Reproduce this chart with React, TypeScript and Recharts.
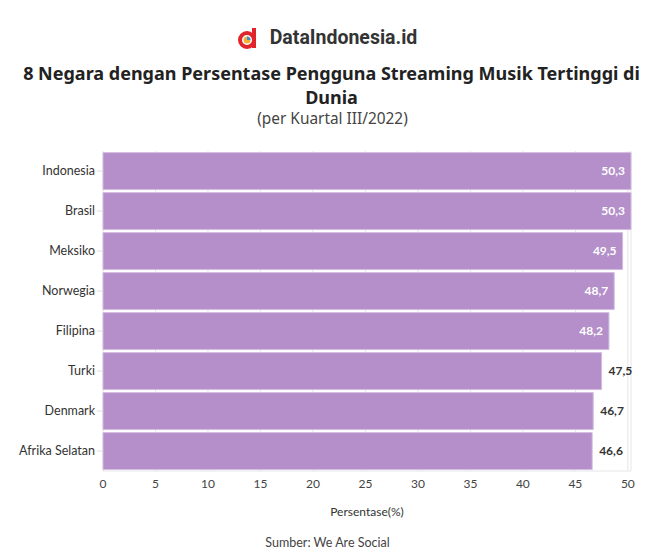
import { BarChart, Bar, XAxis, YAxis, CartesianGrid, LabelList } from "recharts";

const countries = ["Indonesia", "Brasil", "Meksiko", "Norwegia", "Filipina", "Turki", "Denmark", "Afrika Selatan"];
const shares = [50.3, 50.3, 49.5, 48.7, 48.2, 47.5, 46.7, 46.6];
const xTicks = [0, 5, 10, 15, 20, 25, 30, 35, 40, 45, 50];

const rows = countries.map((name, i) => ({ name, value: shares[i] }));

const FONT = "Lato, 'Noto Sans', sans-serif";

function ValueLabel(props: any) {
  const { x, y, width, height, value } = props;
  const inside = value >= 48;
  const text = String(value).replace(".", ",");
  return (
    <text
      x={inside ? x + width - 6 : x + width + 7}
      y={y + height / 2}
      dy={4}
      textAnchor={inside ? "end" : "start"}
      fill={inside ? "#ffffff" : "#333333"}
      fontSize={12}
      fontWeight={700}
      fontFamily={FONT}
    >
      {text}
    </text>
  );
}

function Logo() {
  return (
    <svg width={22} height={22} viewBox="0 0 22 22" style={{ verticalAlign: "middle", marginRight: 10 }}>
      <rect x={14} y={1} width={4} height={20} fill="#e0262b" />
      <circle cx={9} cy={13} r={7} fill="none" stroke="#e0262b" strokeWidth={4} />
      <circle cx={9} cy={13} r={3.5} fill="#f2b134" />
      <path d="M9 13 L9 9.5 A3.5 3.5 0 0 1 12.5 13 Z" fill="#3a8fd8" />
    </svg>
  );
}

export default function App() {
  return (
    <div style={{ position: "absolute", left: 0, top: 0, width: 645, height: 554, background: "#fff", overflow: "hidden" }}>
      <div style={{ position: "absolute", top: 24, left: 5, width: 645, textAlign: "center", fontFamily: "Roboto, sans-serif", fontWeight: 700, fontSize: 19.5, color: "#333", lineHeight: "26px" }}>
        <Logo />
        <span style={{ verticalAlign: "middle" }}>DataIndonesia.id</span>
      </div>
      <div style={{ position: "absolute", top: 61, left: 9, width: 645, textAlign: "center", fontFamily: "'Noto Sans', sans-serif", fontWeight: 700, fontSize: 18, color: "#222", lineHeight: "24px", whiteSpace: "nowrap" }}>
        8 Negara dengan Persentase Pengguna Streaming Musik Tertinggi di
        <br />
        Dunia
      </div>
      <div style={{ position: "absolute", top: 108, left: 10, width: 645, textAlign: "center", fontFamily: "'Noto Sans', sans-serif", fontSize: 15.4, color: "#444", lineHeight: "22px" }}>
        (per Kuartal III/2022)
      </div>
      <div style={{ position: "absolute", top: 0, left: 0 }}>
        <BarChart
          width={645}
          height={554}
          data={rows}
          layout="vertical"
          margin={{ top: 151, right: 14, bottom: 53, left: 0 }}
          barCategoryGap="4%"
        >
          <CartesianGrid horizontal={false} stroke="#e6e6e6" />
          <XAxis
            type="number"
            domain={[0, 50.3]}
            ticks={xTicks}
            axisLine={{ stroke: "#e6e6e6" }}
            tickLine={false}
            tick={{ fontSize: 12, fill: "#444", fontFamily: FONT }}
            height={30}
          />
          <YAxis
            type="category"
            dataKey="name"
            width={103}
            axisLine={false}
            tickLine={{ stroke: "#dddddd" }}
            tickSize={6}
            tick={{ fontSize: 12.5, fill: "#333", fontFamily: FONT }}
          />
          <Bar dataKey="value" fill="#b48fca" stroke="#d4bde2" strokeWidth={1} isAnimationActive={false}>
            <LabelList dataKey="value" content={<ValueLabel />} />
          </Bar>
        </BarChart>
      </div>
      <div style={{ position: "absolute", top: 504, left: 103, width: 528, textAlign: "center", fontFamily: FONT, fontSize: 12, color: "#333" }}>
        Persentase(%)
      </div>
      <div style={{ position: "absolute", top: 535, left: 5, width: 645, textAlign: "center", fontFamily: FONT, fontSize: 12.5, color: "#444" }}>
        Sumber: We Are Social
      </div>
    </div>
  );
}
